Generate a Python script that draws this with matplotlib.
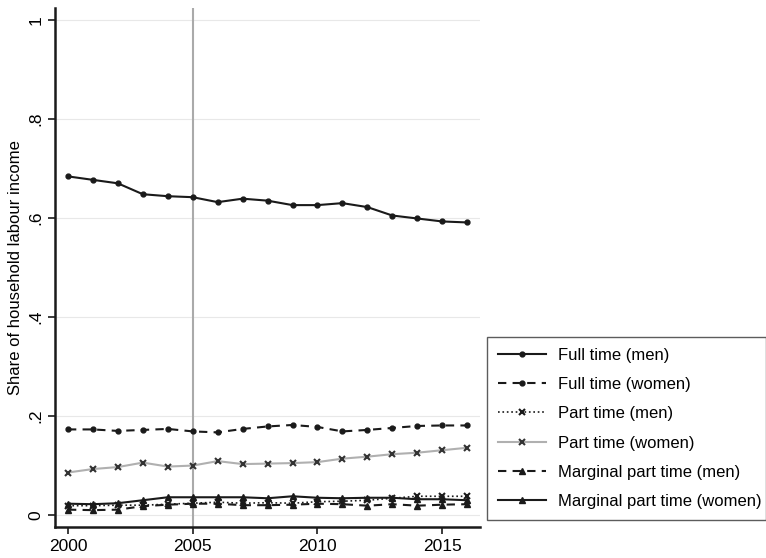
import numpy as np
import matplotlib
matplotlib.use("Agg")
import matplotlib.pyplot as plt

plt.rcParams['font.family'] = ['Liberation Sans', 'DejaVu Sans']

# Jahre und Anteile am Haushaltsarbeitseinkommen
years = np.arange(2000, 2017)

full_men = [0.684, 0.677, 0.670, 0.648, 0.644, 0.642, 0.632, 0.639, 0.635,
            0.626, 0.626, 0.630, 0.622, 0.605, 0.599, 0.593, 0.591]
full_women = [0.173, 0.173, 0.170, 0.172, 0.174, 0.169, 0.167, 0.174, 0.179,
              0.182, 0.178, 0.169, 0.172, 0.176, 0.180, 0.181, 0.181]
part_men = [0.019, 0.019, 0.020, 0.020, 0.022, 0.024, 0.026, 0.024, 0.025,
            0.024, 0.027, 0.028, 0.030, 0.034, 0.038, 0.038, 0.038]
part_women = [0.086, 0.093, 0.097, 0.106, 0.098, 0.100, 0.109, 0.103, 0.104,
              0.105, 0.107, 0.114, 0.118, 0.123, 0.126, 0.131, 0.136]
marg_men = [0.011, 0.010, 0.011, 0.018, 0.021, 0.023, 0.023, 0.020, 0.020,
            0.021, 0.023, 0.022, 0.019, 0.022, 0.019, 0.021, 0.022]
marg_women = [0.023, 0.022, 0.024, 0.030, 0.036, 0.036, 0.036, 0.036, 0.034,
              0.038, 0.035, 0.034, 0.035, 0.035, 0.032, 0.032, 0.030]

labels = ['Full time (men)', 'Full time (women)', 'Part time (men)',
          'Part time (women)', 'Marginal part time (men)',
          'Marginal part time (women)']

dark = '#1a1a1a'
fig = plt.figure(figsize=(7.66, 5.58), dpi=100)
ax = fig.add_axes([0.0718, 0.0556, 0.555, 0.93])

ax.axvline(2005, color='#aaaaaa', lw=1.5, zorder=1)

ax.plot(years, full_men, '-', color=dark, lw=1.5, marker='o', ms=3.5, label=labels[0])
ax.plot(years, full_women, '--', color=dark, lw=1.5, marker='o', ms=3.5,
        dashes=(4, 3), label=labels[1])
ax.plot(years, part_men, ':', color=dark, lw=1.2, marker='x', ms=4, mew=1.5, label=labels[2])
ax.plot(years, part_women, '-', color='#b0b0b0', lw=1.5, marker='x', ms=4, mew=1.5,
        mec='#333333', label=labels[3])
ax.plot(years, marg_men, '--', color=dark, lw=1.5, marker='^', ms=4.5,
        dashes=(4, 3), label=labels[4])
ax.plot(years, marg_women, '-', color=dark, lw=1.5, marker='^', ms=4.5, label=labels[5])

ax.set_xlim(1999.48, 2016.52)
ax.set_ylim(-0.024, 1.024)
ax.set_xticks([2000, 2005, 2010, 2015])
ax.set_yticks([0, 0.2, 0.4, 0.6, 0.8, 1.0])
ax.set_yticklabels(['0', '.2', '.4', '.6', '.8', '1'], rotation=90, va='center')
ax.grid(axis='y', color='#e8e8e8', lw=0.8)
ax.set_axisbelow(True)
ax.tick_params(labelsize=12.5, length=5, width=1.2, color=dark)
ax.set_ylabel('Share of household labour income', fontsize=12)

for s in ['top', 'right']:
    ax.spines[s].set_visible(False)
for s in ['left', 'bottom']:
    ax.spines[s].set_linewidth(1.8)
    ax.spines[s].set_color(dark)

leg = fig.legend(loc='lower left', bbox_to_anchor=(0.636, 0.068, 0.364, 0.328),
                 mode='expand', borderaxespad=0, fontsize=12, handlelength=2.9,
                 handletextpad=0.7, labelspacing=0.86, borderpad=0.65, frameon=True,
                 fancybox=False, edgecolor='#333333')
leg.get_frame().set_linewidth(1.0)

fig.savefig('out.png', dpi=100)
